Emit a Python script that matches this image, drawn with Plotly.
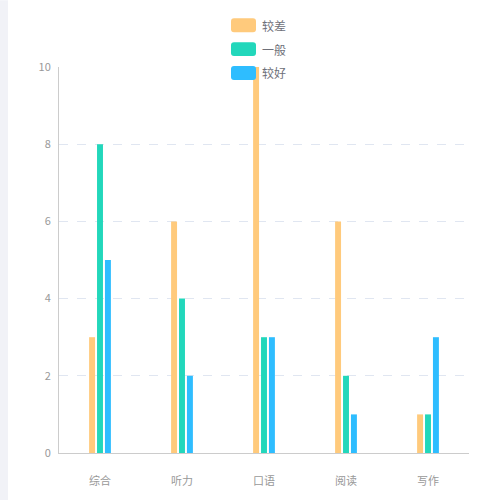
import plotly.graph_objects as go

categorias = ["综合", "听力", "口语", "阅读", "写作"]
series = ["较差", "一般", "较好"]
cores = ["#ffca7c", "#22d7bb", "#2ebdff"]
valores_ruim = [3, 6, 10, 6, 1]
valores_medio = [8, 4, 3, 2, 1]
valores_bom = [5, 2, 3, 1, 3]

W, H = 500, 500
L, R, T, B = 59, 31, 67, 45
pw, ph = W - L - R, H - T - B


def px_x(x):
    return (x - L) / pw


def px_y(y):
    return (H - B - y) / ph


fig = go.Figure()
for nome, vals, cor in zip(series, [valores_ruim, valores_medio, valores_bom], cores):
    fig.add_trace(go.Bar(x=categorias, y=vals, name=nome, marker_color=cor,
                         marker_line_width=0, showlegend=False))

# legenda feita à mão (cantos arredondados)
shapes = [dict(type="rect", xref="paper", yref="paper",
               x0=px_x(0), x1=px_x(8), y0=px_y(510), y1=px_y(0),
               fillcolor="#f1f2f7", line_width=0, layer="below")]
annotations = []
for i, (nome, cor) in enumerate(zip(series, cores)):
    cy = 25 + i * 24
    x0, x1, y0, y1, r = 231, 256, cy - 7, cy + 7, 3
    path = (f"M {px_x(x0 + r)},{px_y(y0)} L {px_x(x1 - r)},{px_y(y0)} "
            f"Q {px_x(x1)},{px_y(y0)} {px_x(x1)},{px_y(y0 + r)} "
            f"L {px_x(x1)},{px_y(y1 - r)} Q {px_x(x1)},{px_y(y1)} {px_x(x1 - r)},{px_y(y1)} "
            f"L {px_x(x0 + r)},{px_y(y1)} Q {px_x(x0)},{px_y(y1)} {px_x(x0)},{px_y(y1 - r)} "
            f"L {px_x(x0)},{px_y(y0 + r)} Q {px_x(x0)},{px_y(y0)} {px_x(x0 + r)},{px_y(y0)} Z")
    shapes.append(dict(type="path", xref="paper", yref="paper", path=path,
                       fillcolor=cor, line_width=0))
    annotations.append(dict(text=nome, xref="paper", yref="paper", x=px_x(260), y=px_y(cy),
                            xanchor="left", yanchor="middle", showarrow=False,
                            font=dict(size=12, color="#6e7079")))

fig.update_layout(
    width=W, height=H,
    margin=dict(l=L, r=R, t=T, b=B),
    paper_bgcolor="white", plot_bgcolor="white",
    font=dict(family="Noto Sans CJK SC, sans-serif", size=11, color="#999999"),
    barmode="group", bargap=0.71, bargroupgap=0.25,
    shapes=shapes, annotations=annotations,
    showlegend=False,
)
fig.update_xaxes(showline=True, linecolor="#cccccc", linewidth=1, showgrid=False,
                 ticks="", ticklabelstandoff=18, tickfont=dict(color="#999999", size=11))
fig.update_yaxes(range=[0, 10], dtick=2, showline=True, linecolor="#cccccc", linewidth=1,
                 showgrid=True, gridcolor="#e0e6f1", griddash="dash", zeroline=False,
                 ticks="", ticklabelstandoff=5, tickfont=dict(color="#999999", size=11))

fig.write_html("out.html", config={"displayModeBar": False},
               post_script="document.body.style.margin = '0'; document.body.style.overflow = 'hidden';")
